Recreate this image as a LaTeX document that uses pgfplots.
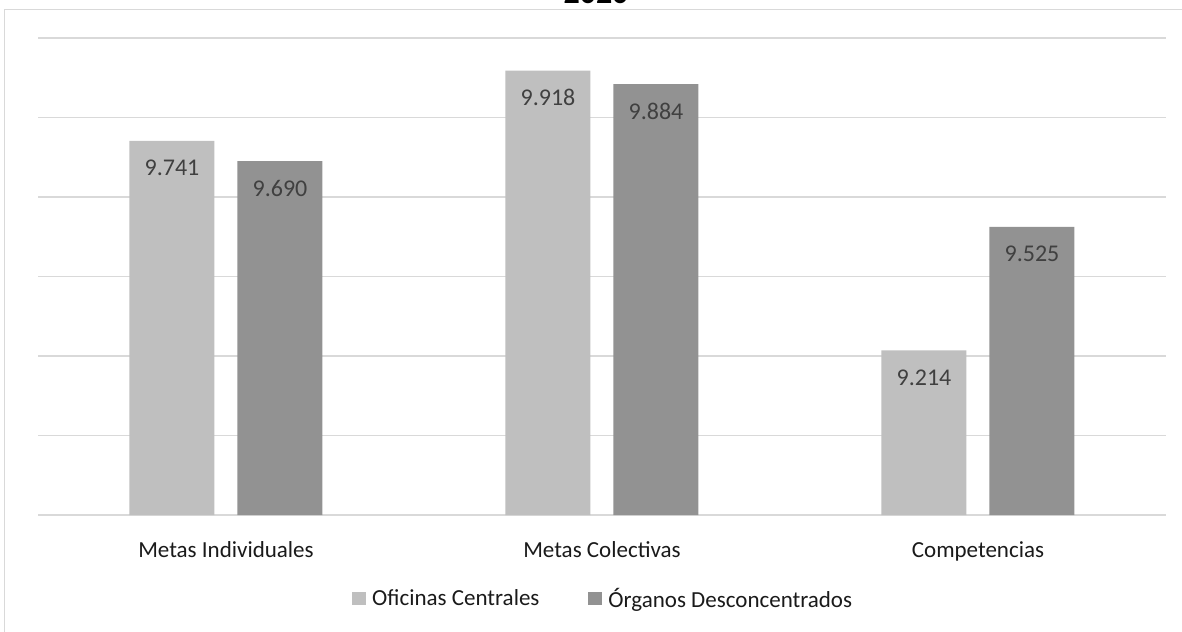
\documentclass[border=0pt]{standalone}
\usepackage{pgfplots}
\pgfplotsset{compat=1.18}
\usepackage{fontspec}
\setmainfont{Carlito}

\definecolor{barlight}{HTML}{BFBFBF}
\definecolor{bardark}{HTML}{929292}
\definecolor{gridgray}{HTML}{D9D9D9}
\definecolor{labelgray}{HTML}{404040}
\definecolor{textdark}{HTML}{1A1A1A}

\begin{document}
\begin{tikzpicture}
\useasboundingbox (0bp,0bp) rectangle (1182bp,-632bp);
% chart frame and title
\draw[gridgray, line width=1.3bp] (4.5bp,-700bp) -- (4.5bp,-9.5bp) -- (1250bp,-9.5bp);
\node[anchor=base, font=\fontsize{32bp}{38bp}\selectfont\bfseries, text=black, inner sep=0pt] at (596bp,-3.5bp) {2020};

\begin{axis}[
  at={(38bp,-515bp)}, anchor=south west,
  width=1128bp, height=477bp, scale only axis,
  ybar=23bp, bar width=85bp,
  ymin=8.8, ymax=10,
  xmin=-0.5, xmax=2.5,
  ytick={8.8,9.0,9.2,9.4,9.6,9.8,10.0},
  yticklabels={},
  ymajorgrids,
  grid style={gridgray, line width=1.3bp},
  axis line style={draw=none},
  tick style={draw=none},
  xtick=data,
  xticklabels={Metas Individuales, Metas Colectivas, Competencias},
  xticklabel style={font=\fontsize{23bp}{28bp}\selectfont, text=textdark, anchor=base, yshift=-38bp, inner sep=0pt},
  nodes near coords={\pgfmathprintnumber[fixed,fixed zerofill,precision=3,assume math mode=true]{\pgfplotspointmeta}},
  nodes near coords style={font=\fontsize{24bp}{29bp}\selectfont, text=labelgray, anchor=base, yshift=-35bp, inner sep=0pt},
  legend columns=2,
  legend style={
    at={(0.2784,-0.175)}, anchor=west,
    draw=none, fill=none,
    font=\fontsize{23bp}{28bp}\selectfont, text=textdark,
    nodes={inner sep=0pt},
    /tikz/every odd column/.append style={column sep=6bp},
    /tikz/every even column/.append style={column sep=49bp},
    inner sep=0pt,
  },
  legend cell align=left,
  legend image code/.code={\fill[#1] (0bp,-6.5bp) rectangle (14bp,6.5bp);},
  clip=false,
]
\addplot[fill=barlight, draw=none] coordinates {(0,9.741) (1,9.918) (2,9.214)};
\addplot[fill=bardark, draw=none] coordinates {(0,9.690) (1,9.884) (2,9.525)};
\legend{Oficinas Centrales, Órganos Desconcentrados}
\end{axis}
\end{tikzpicture}
\end{document}
